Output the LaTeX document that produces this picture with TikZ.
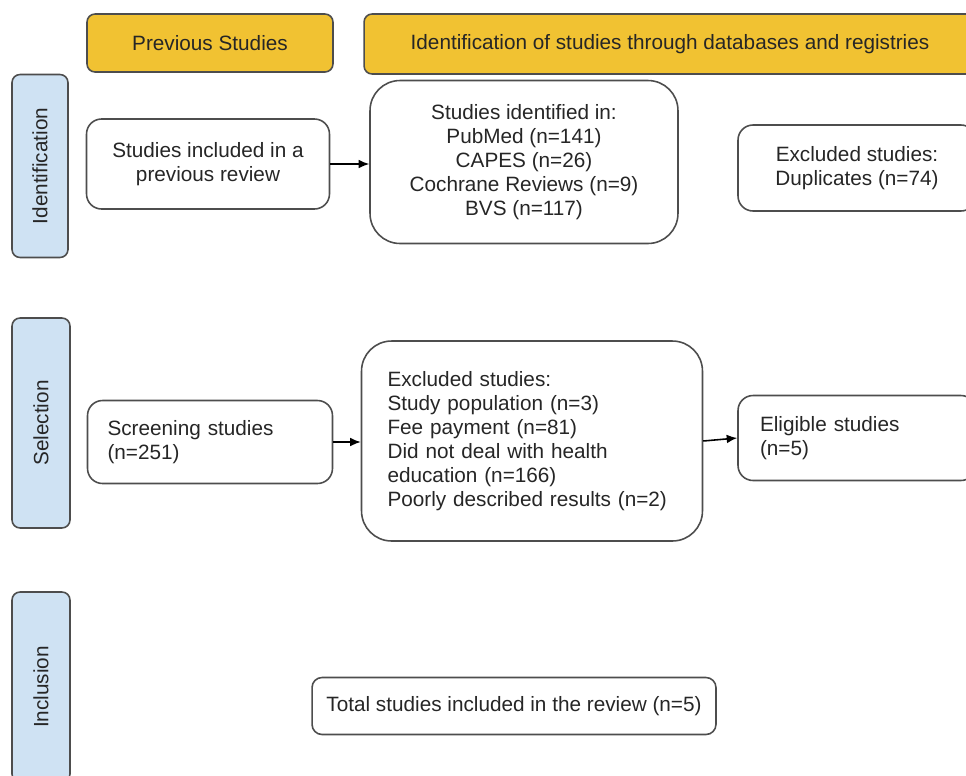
\documentclass[tikz,border=0pt]{standalone}
\usepackage{fontspec}
\setmainfont{Liberation Sans}
\usetikzlibrary{arrows.meta}

\definecolor{headyellow}{HTML}{F1C232}
\definecolor{sideblue}{HTML}{CFE2F3}
\definecolor{edgegray}{HTML}{4D4D4D}

\tikzset{
  box/.style={draw=edgegray, line width=0.9pt, fill=white, rounded corners=0.3cm,
    align=center, text=black!85, font=\fontsize{11.8}{13.6}\selectfont},
  headbox/.style={box, fill=headyellow, rounded corners=0.16cm},
  sidebox/.style={box, fill=sideblue, rotate=90, rounded corners=0.16cm},
  leftbox/.style={box, align=left},
  flow/.style={-{Latex[length=6pt,width=5pt]}, line width=0.9pt, black}
}

\begin{document}
\begin{tikzpicture}[x=0.02cm,y=-0.02cm]
\path[use as bounding box, clip] (0,0) rectangle (966,775);

% headers
\node[headbox, minimum width=4.92cm, minimum height=1.16cm] (prevhead) at (210,43) {Previous Studies};
\node[headbox, minimum width=12.24cm, minimum height=1.2cm] (idhead) at (670,44) {Identification of studies through databases and registries};

% phases
\node[sidebox, minimum width=3.66cm, minimum height=1.12cm] (phaseid) at (40,166) {Identification};
\node[sidebox, minimum width=4.2cm, minimum height=1.16cm] (phasesel) at (41,423) {Selection};
\node[sidebox, minimum width=3.8cm, minimum height=1.16cm] (phaseinc) at (41,687) {Inclusion};

% identification
\node[box, minimum width=4.86cm, minimum height=1.8cm] (prev) at (208,164) {Studies included in a\\previous review};
\node[box, rounded corners=0.6cm, minimum width=6.16cm, minimum height=3.26cm] (ident) at (524,162) {Studies identified in:\\PubMed (n=141)\\CAPES (n=26)\\Cochrane Reviews (n=9)\\BVS (n=117)};
\node[box, minimum width=4.76cm, minimum height=1.72cm] (dup) at (857,168) {Excluded studies:\\Duplicates (n=74)};

% selection
\node[leftbox, inner xsep=0.4cm, text width=4.1cm, minimum height=1.66cm] (screen) at (210,442) {Screening studies\\(n=251)};
\node[leftbox, rounded corners=0.6cm, inner xsep=0.52cm, text width=5.78cm, minimum height=4cm] (excl) at (532,441) {Excluded studies:\\Study population (n=3)\\Fee payment (n=81)\\Did not deal with health\\education (n=166)\\Poorly described results (n=2)};
\node[leftbox, inner xsep=0.44cm, text width=3.88cm, minimum height=1.7cm] (elig) at (857,438) {Eligible studies\\(n=5)};

% inclusion
\node[box, rounded corners=0.2cm, minimum width=8.08cm, minimum height=1.14cm] (total) at (514,706) {Total studies included in the review (n=5)};

\draw[flow] (prev.east) -- (prev.east -| ident.west);
\draw[flow] (screen.east) -- (screen.east -| excl.west);
\draw[flow] (excl.east) -- (elig.west);

\end{tikzpicture}
\end{document}
